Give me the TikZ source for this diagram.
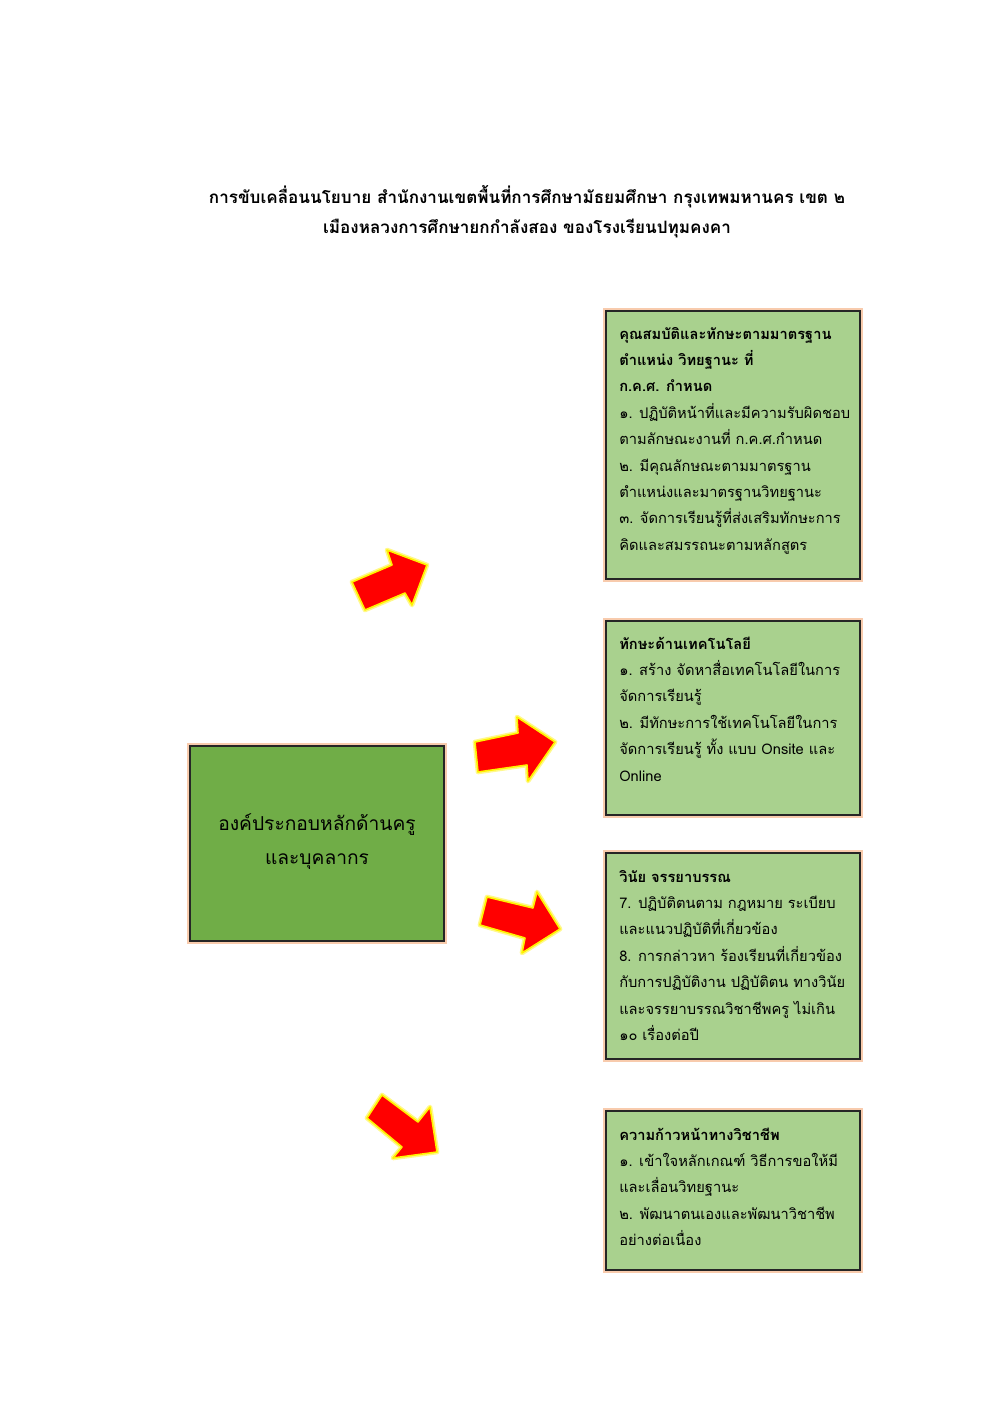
\documentclass[tikz,border=0pt]{standalone}
\usepackage{fontspec}
\newfontfamily\thaifont[Script=Thai]{Loma}
\definecolor{lightg}{HTML}{A9D18E}
\definecolor{maing}{HTML}{70AD47}
\definecolor{glowo}{HTML}{F8CBAD}
\begin{document}
\begin{tikzpicture}[x=0.75pt,y=-0.75pt,
  glowbox/.style={draw=glowo,line width=4.5pt},
  greenbox/.style={draw=black!85,line width=1.1pt,fill=lightg},
  mainbox/.style={draw=black!85,line width=1.1pt,fill=maing},
  boxtext/.style={anchor=base west,inner sep=0pt,font=\thaifont\fontsize{11}{19.8}\selectfont},
  titletext/.style={anchor=base,inner sep=0pt,font=\thaifont\bfseries\fontsize{12.8}{22.5}\selectfont,align=center},
  redarrow/.style={fill=red,draw=yellow,line width=1.2pt,line join=round},
  arrowglow/.style={draw=yellow!45,line width=3.5pt,line join=round}]
\useasboundingbox (0,0) rectangle (994,1404);
\fill[white] (0,0) rectangle (994,1404);

% title
\node[titletext] (title) at (527,203) {\parbox[t]{700pt}{\centering
การขับเคลื่อนนโยบาย สำนักงานเขตพื้นที่การศึกษามัธยมศึกษา กรุงเทพมหานคร เขต ๒\\
เมืองหลวงการศึกษายกกำลังสอง ของโรงเรียนปทุมคงคา}};

% glow frames
\draw[glowbox] (606,311) rectangle (860,579);
\draw[glowbox] (606,621) rectangle (860,815);
\draw[glowbox] (606,853) rectangle (860,1059);
\draw[glowbox] (606,1111) rectangle (860,1270);
\draw[glowbox] (190,746) rectangle (444,941);

% boxes
\path[greenbox] (606,311) rectangle (860,579) node[pos=0.5,inner sep=0] (b1) {};
\path[greenbox] (606,621) rectangle (860,815) node[pos=0.5,inner sep=0] (b2) {};
\path[greenbox] (606,853) rectangle (860,1059) node[pos=0.5,inner sep=0] (b3) {};
\path[greenbox] (606,1111) rectangle (860,1270) node[pos=0.5,inner sep=0] (b4) {};
\path[mainbox] (190,746) rectangle (444,941) node[pos=0.5,inner sep=0] (m) {};

% main text
\node[anchor=base,inner sep=0pt,font=\thaifont\fontsize{14.4}{26.2}\selectfont] (mt) at (317,830) {\parbox[t]{250pt}{\centering องค์ประกอบหลักด้านครู\\และบุคลากร}};

% box texts
\node[boxtext] (t1) at (619,339) {\parbox[t]{250pt}{\raggedright
{\bfseries คุณสมบัติและทักษะตามมาตรฐาน}\\
{\bfseries ตำแหน่ง วิทยฐานะ ที่}\\
{\bfseries ก.ค.ศ. กำหนด}\\
๑. ปฏิบัติหน้าที่และมีความรับผิดชอบ\\
ตามลักษณะงานที่ ก.ค.ศ.กำหนด\\
๒. มีคุณลักษณะตามมาตรฐาน\\
ตำแหน่งและมาตรฐานวิทยฐานะ\\
๓. จัดการเรียนรู้ที่ส่งเสริมทักษะการ\\
คิดและสมรรถนะตามหลักสูตร}};

\node[boxtext] (t2) at (619,649) {\parbox[t]{250pt}{\raggedright
{\bfseries ทักษะด้านเทคโนโลยี}\\
๑. สร้าง จัดหาสื่อเทคโนโลยีในการ\\
จัดการเรียนรู้\\
๒. มีทักษะการใช้เทคโนโลยีในการ\\
จัดการเรียนรู้ ทั้ง แบบ Onsite และ\\
Online}};

\node[boxtext] (t3) at (619,882) {\parbox[t]{250pt}{\raggedright
{\bfseries วินัย จรรยาบรรณ}\\
7. ปฏิบัติตนตาม กฎหมาย ระเบียบ\\
และแนวปฏิบัติที่เกี่ยวข้อง\\
8. การกล่าวหา ร้องเรียนที่เกี่ยวข้อง\\
กับการปฏิบัติงาน ปฏิบัติตน ทางวินัย\\
และจรรยาบรรณวิชาชีพครู ไม่เกิน\\
๑๐ เรื่องต่อปี}};

\node[boxtext] (t4) at (619,1140) {\parbox[t]{250pt}{\raggedright
{\bfseries ความก้าวหน้าทางวิชาชีพ}\\
๑. เข้าใจหลักเกณฑ์ วิธีการขอให้มี\\
และเลื่อนวิทยฐานะ\\
๒. พัฒนาตนเองและพัฒนาวิชาชีพ\\
อย่างต่อเนื่อง}};

% arrows
\def\arrA{(365,610) -- (405,593) -- (412,605) -- (427,565) -- (387,550) -- (392,565) -- (352,582) -- cycle}
\def\arrB{(478,772) -- (527,765) -- (528,781) -- (555,742) -- (517,717) -- (518,733) -- (475,742) -- cycle}
\def\arrC{(480,925) -- (525,938) -- (522,953) -- (560,929) -- (537,892) -- (533,908) -- (487,897) -- cycle}
\def\arrD{(367,1118) -- (402,1147) -- (393,1158) -- (437,1152) -- (430,1107) -- (418,1122) -- (382,1095) -- cycle}
\foreach \a in {\arrA,\arrB,\arrC,\arrD}{
  \draw[arrowglow] \a;
  \draw[redarrow] \a;
}
\end{tikzpicture}
\end{document}
